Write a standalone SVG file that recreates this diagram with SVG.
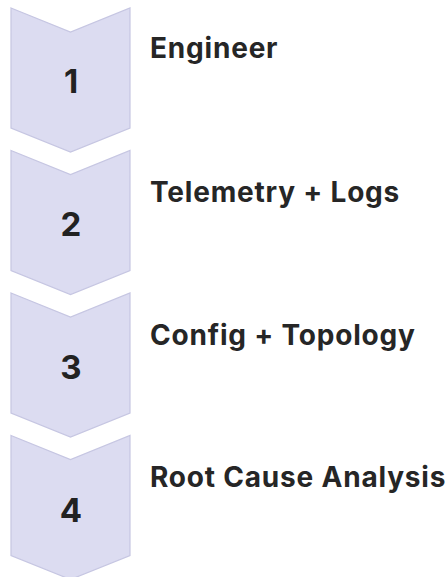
<svg xmlns="http://www.w3.org/2000/svg" width="448" height="577" viewBox="0 0 448 577">
<style>
.chev{fill:#dcdcf1;stroke:#c6c6e2;stroke-width:1.2}
.num{font-family:Inter,"Liberation Sans",sans-serif;font-weight:700;font-size:33px;fill:#222;text-anchor:middle}
.lbl{font-family:Inter,"Liberation Sans",sans-serif;font-weight:700;font-size:28px;letter-spacing:0.8px;fill:#262626}
</style>
<rect width="448" height="577" fill="#fff"/>
<g id="connectors"></g>
<g id="step1">
<path class="chev" d="M11,8 L70.5,32 L130,8 L130,128 L70.5,152 L11,128 Z"/>
<text class="num" x="71" y="93">1</text>
<text class="lbl" x="150" y="58">Engineer</text>
</g>
<g id="step2">
<path class="chev" d="M11,150.5 L70.5,174.5 L130,150.5 L130,270.5 L70.5,294.5 L11,270.5 Z"/>
<text class="num" x="71" y="236">2</text>
<text class="lbl" x="150" y="202">Telemetry + Logs</text>
</g>
<g id="step3">
<path class="chev" d="M11,293 L70.5,317 L130,293 L130,413 L70.5,437 L11,413 Z"/>
<text class="num" x="71" y="379">3</text>
<text class="lbl" x="150" y="345">Config + Topology</text>
</g>
<g id="step4">
<path class="chev" d="M11,435.5 L70.5,459.5 L130,435.5 L130,555.5 L70.5,579.5 L11,555.5 Z"/>
<text class="num" x="71" y="522">4</text>
<text class="lbl" x="150" y="487">Root Cause Analysis</text>
</g>
</svg>
